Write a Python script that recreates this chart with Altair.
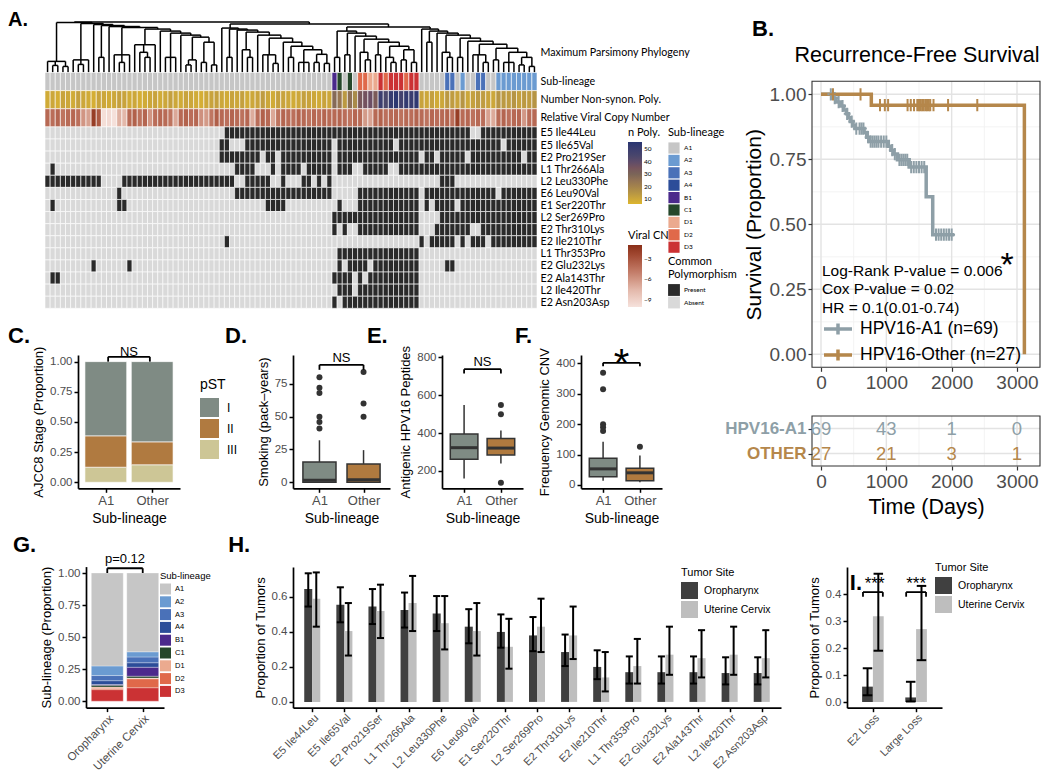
import json
import altair as alt
import pandas as pd

W, H = 1034, 764
M = 8
FONT = "Liberation Sans"
HFONT = "Lato"
TXT = "#4D4D4D"


def P(v):
    return v - M


def sc(dom, rng):
    return alt.Scale(domain=list(dom), range=[P(rng[0]), P(rng[1])], nice=False, zero=False)


def axis_kw(**kw):
    base = dict(grid=False, domainColor="black", domainWidth=1.7, tickColor="black",
                tickWidth=1.5, tickSize=4, labelColor=TXT, labelFont=FONT, labelFontSize=11.5,
                titleFont=FONT, titleFontSize=13, titleFontWeight="normal", titleColor="black",
                labelPadding=2, titlePadding=4, labelOverlap=False, labelFlush=False)
    base.update(kw)
    return alt.Axis(**base)


def yleft(at_x, **kw):
    return axis_kw(orient="left", offset=-P(at_x), **kw)


def xbottom(at_y, **kw):
    return axis_kw(orient="bottom", offset=P(at_y) - H, **kw)


def seg_chart(rows, xs, ys, **mk):
    df = pd.DataFrame(rows, columns=["x", "x2", "y", "y2"])
    return alt.Chart(df).mark_rule(**mk).encode(
        x=alt.X("x:Q", scale=xs, axis=None), x2="x2:Q",
        y=alt.Y("y:Q", scale=ys, axis=None), y2="y2:Q")


def text_chart(rows, xs, ys, **mk):
    df = pd.DataFrame(rows, columns=["x", "y", "t"])
    return alt.Chart(df).mark_text(**mk).encode(
        x=alt.X("x:Q", scale=xs, axis=None),
        y=alt.Y("y:Q", scale=ys, axis=None), text="t:N")


def bracket(x1, x2, ytop, yleg):
    return [(x1, x1, yleg, ytop), (x1, x2, ytop, ytop), (x2, x2, yleg, ytop)]


def letter(label, x, y, xs, ys, size=22):
    return text_chart([(x, y, label)], xs, ys, font=FONT, fontSize=size, fontWeight="bold",
                      align="left", baseline="alphabetic", color="black")


layers = []

# ======================= Panel A : phylogeny heatmap =======================
N_COLS = 96
SUB_LEVELS = ["A1", "A2", "A3", "A4", "B1", "C1", "D1", "D2", "D3"]
SUB_COLORS = ["#C6C6C6", "#6B9BD1", "#4A71B8", "#2C4D99", "#4B2A8C", "#25472B",
              "#EBAA8F", "#E0694A", "#CB3234"]
SUB_RUNS = [("A1", 56), ("B1", 1), ("C1", 1), ("A1", 1), ("C1", 1), ("A1", 1),
            ("D2", 2), ("D1", 2), ("D3", 1), ("D2", 1), ("D3", 3), ("D2", 1), ("D3", 2),
            ("A1", 5), ("A3", 2), ("A1", 1), ("A2", 1), ("A1", 2), ("A3", 2), ("A1", 2), ("A2", 8)]
N_POLY = [9, 10, 8, 11, 10, 9, 12, 10, 9, 8, 11, 10, 9, 10, 12, 11, 9, 10, 8, 9, 10, 11, 9, 10,
          12, 10, 9, 11, 10, 9, 8, 10, 11, 12, 10, 9, 11, 10, 12, 9, 10, 11, 13, 10, 9, 12, 11, 10,
          9, 10, 12, 11, 10, 9, 11, 10,
          28, 24, 14, 26, 18,
          34, 36, 38, 33, 50, 44, 52, 55, 48, 53, 51, 54,
          11, 10, 12, 9, 10, 14, 13, 11, 15, 10, 12, 14, 13, 11, 10, 15, 14, 13, 15, 12, 14, 13, 15]
VIRAL_CN = [-4.0, -4.2, -3.8, -4.5, -4.1, -3.9, -4.3, -6.0,
            -6.5, -1.8, -3.2, -9.8, -9.6, -9.9, -7.2, -7.5,
            -4.0, -3.6, -4.4, -3.8, -6.0, -4.2, -3.9, -4.1,
            -4.5, -6.8, -4.0, -3.7, -4.2, -3.9, -5.8, -6.2,
            -4.6, -3.5, -4.0, -4.3, -3.8, -4.1, -4.4, -3.9,
            -7.0, -4.2, -3.6, -4.0, -6.8, -4.5, -3.8, -4.1,
            -4.3, -3.7, -4.0, -4.4, -3.9, -4.2, -3.8, -4.1,
            -4.0, -3.8, -4.2, -4.5, -3.9, -4.1, -6.2, -6.6,
            -4.0, -3.7, -4.3, -4.1, -3.9, -4.4, -4.0, -4.2,
            -3.8, -4.1, -4.5, -3.9, -4.2, -4.0, -3.7, -4.3,
            -1.8, -4.1, -3.9, -4.4, -4.0, -4.2, -6.5, -6.9,
            -4.1, -3.8, -4.3, -4.0, -3.9, -6.1, -4.2, -4.0]
SNP_NAMES = ["E5 Ile44Leu", "E5 Ile65Val", "E2 Pro219Ser", "L1 Thr266Ala", "L2 Leu330Phe",
             "E6 Leu90Val", "E1 Ser220Thr", "L2 Ser269Pro", "E2 Thr310Lys", "E2 Ile210Thr",
             "L1 Thr353Pro", "E2 Glu232Lys", "E2 Ala143Thr", "L2 Ile420Thr", "E2 Asn203Asp"]
SNP_RUNS = [
    [(35, 82), (85, 95)],
    [(34, 35), (39, 55), (57, 67), (69, 88), (90, 95)],
    [(34, 41), (43, 44), (46, 55), (57, 72), (74, 75), (77, 81), (83, 92), (94, 95)],
    [(1, 1), (37, 40), (44, 44), (46, 49), (51, 55), (57, 59), (62, 66), (69, 95)],
    [(0, 10), (15, 36), (39, 43), (46, 46), (50, 51), (53, 53), (55, 55), (77, 79)],
    [(14, 14), (37, 55), (61, 72), (74, 87), (89, 95)],
    [(1, 1), (14, 15), (43, 46), (57, 57), (61, 72), (74, 74), (76, 79), (81, 95)],
    [(56, 72), (77, 95)],
    [(56, 56), (58, 58), (61, 72), (76, 82), (85, 95)],
    [(35, 35), (73, 73), (75, 79), (81, 81), (83, 85), (87, 95)],
    [(57, 72)],
    [(9, 9), (16, 16), (57, 57), (59, 62), (64, 72), (78, 79)],
    [(1, 2), (56, 56), (57, 59), (61, 61), (63, 72)],
    [(57, 59), (61, 72)],
    [(56, 56), (58, 72)],
]

# phylogeny: ladders of sub-clades, "(height child child ...)", x = leaf
LEFT_H = [0.99, 0.97, 0.95, 0.93, 0.91, 0.89, 0.86, 0.82, 0.78, 0.74, 0.70, 0.60]
LEFT_SUBS = ["(0.22 x (0.14 x x) (0.12 x x))", "(0.25 x (0.16 x x) x)", "x", "(0.3 x x)", "x",
             "(0.35 x (0.2 x x) x)", "(0.55 x (0.4 x (0.3 x x)) x)", "x", "(0.3 x x x)", "x",
             "(0.25 (0.15 x x) x)", "(0.2 x x)", "(0.15 x x)"]
RA_H = [0.88, 0.86, 0.84, 0.80, 0.74, 0.68, 0.60, 0.52, 0.45, 0.36]
RA_SUBS = ["x", "(0.3 x x)", "x", "(0.45 x (0.3 x x))", "x", "(0.35 x x (0.18 x x))", "x",
           "(0.3 x x)", "(0.2 x x x)", "(0.2 x x)", "(0.18 x x)"]
RB1_H = [0.82, 0.78, 0.72, 0.66, 0.60, 0.52, 0.45]
RB1_SUBS = ["(0.3 x x)", "(0.35 x x)", "x", "(0.4 x (0.25 x x))", "(0.35 x x)",
            "(0.3 x (0.2 x x))", "(0.25 x x)", "(0.2 x x)"]
RB2_H = [0.86, 0.82, 0.78, 0.74, 0.68, 0.62, 0.56, 0.48, 0.40, 0.30]
RB2_SUBS = ["x", "(0.6 x x)", "x", "(0.4 x (0.3 x x))", "(0.3 x x)", "x",
            "(0.35 x x (0.2 x x))", "(0.25 x x)", "(0.2 x x x)", "(0.15 x x)", "(0.12 x x)"]
ROOT_H, RIGHT_H, RB_H = 1.0, 0.96, 0.90


def ladder(heights, subs):
    s = "(%s %s %s)" % (heights[-1], subs[-2], subs[-1])
    for h, sub in zip(reversed(heights[:-1]), reversed(subs[:-2])):
        s = "(%s %s %s)" % (h, sub, s)
    return s


tree_str = "(%s %s (%s %s (%s %s %s)))" % (
    ROOT_H, ladder(LEFT_H, LEFT_SUBS), RIGHT_H, ladder(RA_H, RA_SUBS),
    RB_H, ladder(RB1_H, RB1_SUBS), ladder(RB2_H, RB2_SUBS))
tokens = tree_str.replace("(", " ( ").replace(")", " ) ").split()
state = {"pos": 0, "leaf": 0}
dendro_rows = []


def build():
    t = tokens[state["pos"]]
    state["pos"] += 1
    if t == "x":
        i = state["leaf"]
        state["leaf"] += 1
        return (i + 0.5, 0.0)
    h = float(tokens[state["pos"]])
    state["pos"] += 1
    pts = []
    while tokens[state["pos"]] != ")":
        pts.append(build())
    state["pos"] += 1
    xs_ = [p[0] for p in pts]
    for cx, ch in pts:
        dendro_rows.append((cx, cx, h, ch))
    dendro_rows.append((min(xs_), max(xs_), h, h))
    return ((min(xs_) + max(xs_)) / 2, h)


build()

XA = sc([0, N_COLS], [45, 537])
YDEN = sc([0, 1], [72.5, 22])
YHM = sc([0, 19.5], [72.5, 308.3])
ROWLAB_SIZE = 10.7

layers.append(seg_chart(dendro_rows, XA, YDEN, color="black", strokeWidth=1.5).encode(
    y=alt.Y("y:Q", scale=YDEN, axis=alt.Axis(
        orient="right", offset=P(537) - W, values=[0.4], labelExpr="'Maximum Parsimony Phylogeny'",
        ticks=False, domain=False, grid=False, labelFont=HFONT, labelFontSize=ROWLAB_SIZE,
        labelColor="black", labelPadding=3, title=None, labelOverlap=False))))
layers.append(letter("A.", -7.22, 0.92, XA, YDEN, size=20))

sub_list = []
for lab, n in SUB_RUNS:
    sub_list += [lab] * n
cols = list(range(N_COLS))
df_sub = pd.DataFrame({"c0": cols, "c1": [c + 1 for c in cols], "r0": 0.0, "r1": 1.5, "v": sub_list})
df_np = pd.DataFrame({"c0": cols, "c1": [c + 1 for c in cols], "r0": 1.5, "r1": 3.0, "v": N_POLY})
df_cn = pd.DataFrame({"c0": cols, "c1": [c + 1 for c in cols], "r0": 3.0, "r1": 4.5, "v": VIRAL_CN})
snp_rows = []
for k, (name, runs) in enumerate(zip(SNP_NAMES, SNP_RUNS)):
    present = set()
    for a, b in runs:
        present.update(range(a, b + 1))
    for c in cols:
        snp_rows.append({"c0": c, "c1": c + 1, "r0": 4.5 + k, "r1": 5.5 + k,
                         "v": "Present" if c in present else "Absent"})
df_snp = pd.DataFrame(snp_rows)


def heat(df, color):
    return alt.Chart(df).mark_rect(stroke="white", strokeWidth=0.6).encode(
        x=alt.X("c0:Q", scale=XA, axis=None), x2="c1:Q",
        y=alt.Y("r0:Q", scale=YHM, axis=None), y2="r1:Q", color=color)


small_leg = dict(orient="none", titleFont=HFONT, titleFontSize=11, titleFontWeight="normal",
                 titleColor="black", labelFont=HFONT, labelFontSize=6.5, labelColor="black",
                 titlePadding=4)

layers.append(heat(df_sub, alt.Color("v:N", scale=alt.Scale(domain=SUB_LEVELS, range=SUB_COLORS),
                                     legend=alt.Legend(legendX=P(668), legendY=P(127), title="Sub-lineage",
                                                       symbolType="square", symbolSize=125,
                                                       symbolStrokeWidth=0, rowPadding=0.4,
                                                       **small_leg))))
layers.append(heat(df_np, alt.Color("v:Q", scale=alt.Scale(domain=[6, 18, 30, 42, 56],
                                                           range=["#DDB62E", "#A98B49", "#7B6558", "#4F4B6B", "#283672"]),
                                    legend=alt.Legend(legendX=P(628), legendY=P(127), title="n Poly.",
                                                      gradientLength=62, gradientThickness=14,
                                                      gradientStrokeWidth=0, values=[10, 20, 30, 40, 50],
                                                      direction="vertical", **small_leg))))
layers.append(heat(df_cn, alt.Color("v:Q", scale=alt.Scale(domain=[-10, -7.5, -5, -2.5, -1],
                                                           range=["#F6E2DC", "#E3B8AA", "#C47E6B", "#A24A33", "#8A2F18"]),
                                    legend=alt.Legend(legendX=P(628), legendY=P(230), title="Viral CN",
                                                      gradientLength=62, gradientThickness=14,
                                                      gradientStrokeWidth=0, values=[-3, -6, -9],
                                                      direction="vertical", **small_leg))))
ROW_LABELS = ["Sub-lineage", "", "Number Non-synon. Poly.", "Relative Viral Copy Number", ""] + SNP_NAMES
row_vals = [0.75, 2.25, 3.75] + [5 + k for k in range(15)]
layers.append(alt.Chart(df_snp).mark_rect(stroke="white", strokeWidth=0.6).encode(
    x=alt.X("c0:Q", scale=XA, axis=None), x2="c1:Q",
    y=alt.Y("r0:Q", scale=YHM, axis=alt.Axis(
        orient="right", offset=P(537) - W, values=row_vals,
        labelExpr=json.dumps(ROW_LABELS) + "[floor(datum.value)]", ticks=False, domain=False,
        grid=False, labelFont=HFONT, labelFontSize=ROWLAB_SIZE, labelColor="black", labelPadding=3,
        title=None, labelOverlap=False, labelBaseline="middle")),
    y2="r1:Q",
    color=alt.Color("v:N", scale=alt.Scale(domain=["Present", "Absent"], range=["#2A2A2A", "#D9D9D9"]),
                    legend=alt.Legend(legendX=P(668), legendY=P(256), title=["Common", "Polymorphism"],
                                      symbolType="square", symbolSize=140, symbolStrokeWidth=0,
                                      rowPadding=0.5, **small_leg))))

# ======================= Panel B : Kaplan-Meier =======================
C_A1 = "#8E9FA7"
C_OT = "#B5874B"
KM_XDOM = [-137.8, 3352]
KM_YDOM = [-0.05, 1.05]
XK = sc(KM_XDOM, [812, 1040])
YK = sc(KM_YDOM, [367.3, 81.3])
KM_GROUPS = ["HPV16-A1 (n=69)", "HPV16-Other (n=27)"]
A1_TIME = [0, 180, 230, 300, 350, 390, 420, 450, 490, 520, 660, 700, 740, 1030, 1070, 1110,
           1170, 1350, 1610, 1710, 2040]
A1_SURV = [1.0, 0.985, 0.97, 0.955, 0.94, 0.925, 0.91, 0.895, 0.88, 0.868, 0.853, 0.835, 0.818,
           0.80, 0.785, 0.77, 0.748, 0.72, 0.606, 0.46, 0.46]
OT_TIME = [0, 770, 3113]
OT_SURV = [1.0, 0.958, 0.0]
A1_CENSOR = [150, 210, 270, 330, 400, 470, 540, 590, 620, 650, 720, 760, 790, 820, 850, 880, 920,
             960, 1000, 1090, 1130, 1200, 1230, 1260, 1290, 1320, 1380, 1420, 1460, 1500, 1540,
             1580, 1760, 1800, 1840, 1880, 1920, 1960, 2000]
OT_CENSOR = [183, 605, 903, 977, 1027, 1325, 1374, 1424, 1474, 1500, 1523, 1548, 1573, 1600,
             1623, 1650, 1672, 1722, 1945, 2392]
KM_GRID_MAJOR_X = [0, 1000, 2000, 3000]
KM_GRID_MINOR_X = [500, 1500, 2500]
KM_GRID_MAJOR_Y = [0, 0.25, 0.5, 0.75, 1.0]
KM_GRID_MINOR_Y = [0.125, 0.375, 0.625, 0.875]


def surv_at(times, survs, t):
    s = survs[0]
    for ti, si in zip(times, survs):
        if ti <= t:
            s = si
    return s


grid_major = [(x, x, KM_YDOM[0], KM_YDOM[1]) for x in KM_GRID_MAJOR_X] + \
             [(KM_XDOM[0], KM_XDOM[1], y, y) for y in KM_GRID_MAJOR_Y]
grid_minor = [(x, x, KM_YDOM[0], KM_YDOM[1]) for x in KM_GRID_MINOR_X] + \
             [(KM_XDOM[0], KM_XDOM[1], y, y) for y in KM_GRID_MINOR_Y]
layers.append(seg_chart(grid_minor, XK, YK, color="#F0F0F0", strokeWidth=0.8))
layers.append(seg_chart(grid_major, XK, YK, color="#E3E3E3", strokeWidth=1.4))

km_border = pd.DataFrame({"x": [KM_XDOM[0]], "x2": [KM_XDOM[1]], "y": [KM_YDOM[0]], "y2": [KM_YDOM[1]]})
layers.append(alt.Chart(km_border).mark_rect(fillOpacity=0, stroke="#333333", strokeWidth=1.1).encode(
    x=alt.X("x:Q", scale=XK, axis=alt.Axis(
        orient="bottom", offset=P(367.3) - H, values=KM_GRID_MAJOR_X, format="d", grid=False,
        domain=False, tickColor="#333333", tickSize=4, tickWidth=1.2, labelColor=TXT,
        labelFont=FONT, labelFontSize=19, labelPadding=2, title=None, labelOverlap=False,
        labelFlush=False)),
    x2="x2:Q",
    y=alt.Y("y:Q", scale=YK, axis=alt.Axis(
        orient="left", offset=-P(812), values=KM_GRID_MAJOR_Y, format=".2f", grid=False,
        domain=False, tickColor="#333333", tickSize=4, tickWidth=1.2, labelColor=TXT,
        labelFont=FONT, labelFontSize=19, labelPadding=2, title="Survival (Proportion)",
        titleFont=FONT, titleFontSize=21, titleFontWeight="normal", titleColor="black",
        titlePadding=5, labelOverlap=False)),
    y2="y2:Q"))

km_lines = pd.DataFrame(
    [{"g": KM_GROUPS[0], "t": t, "s": s, "o": i} for i, (t, s) in enumerate(zip(A1_TIME, A1_SURV))] +
    [{"g": KM_GROUPS[1], "t": t, "s": s, "o": i} for i, (t, s) in enumerate(zip(OT_TIME, OT_SURV))])
km_color = alt.Scale(domain=KM_GROUPS, range=[C_A1, C_OT])
layers.append(alt.Chart(km_lines).mark_line(interpolate="step-after", strokeWidth=3.5).encode(
    x=alt.X("t:Q", scale=XK, axis=None), y=alt.Y("s:Q", scale=YK, axis=None), order="o:Q",
    color=alt.Color("g:N", scale=km_color, legend=alt.Legend(
        orient="none", legendX=P(826), legendY=P(317), title=None,
        symbolType="M-1.4,0H1.4M0,-0.55V0.55", symbolSize=400, symbolStrokeWidth=3.5,
        labelFont=FONT, labelFontSize=17.5, labelColor="black", rowPadding=0, labelOffset=10,
        labelLimit=400))))
cens = pd.DataFrame(
    [{"g": KM_GROUPS[0], "t": t, "s": surv_at(A1_TIME, A1_SURV, t)} for t in A1_CENSOR] +
    [{"g": KM_GROUPS[1], "t": t, "s": surv_at(OT_TIME, OT_SURV, t)} for t in OT_CENSOR])
layers.append(alt.Chart(cens).mark_point(shape="M0,-1V1M-0.55,0H0.55", filled=False, size=150,
                                         strokeWidth=2, opacity=1).encode(
    x=alt.X("t:Q", scale=XK, axis=None), y=alt.Y("s:Q", scale=YK, axis=None),
    color=alt.Color("g:N", scale=km_color, legend=None)))
KM_NOTES = [(15, 0.32, "Log-Rank P-value = 0.006"), (15, 0.251, "Cox P-value = 0.02"),
            (15, 0.18, "HR = 0.1(0.01-0.74)")]
layers.append(text_chart(KM_NOTES, XK, YK, font=FONT, fontSize=15.5, align="left",
                         baseline="middle", color="black"))
layers.append(text_chart([(2847, 0.30, "*")], XK, YK, font=FONT, fontSize=34, align="center",
                         baseline="alphabetic", color="black"))
layers.append(letter("B.", -1056, 1.224, XK, YK))
layers.append(text_chart([(1469, 1.125, "Recurrence-Free Survival")], XK, YK, font=FONT, fontSize=21.5,
                         align="center", baseline="alphabetic", color="black"))

# risk table
RISK_TIMES = [0, 1000, 2000, 3000]
RISK_A1 = [69, 43, 1, 0]
RISK_OT = [27, 21, 3, 1]
YR = sc([0.5, 2.5], [416, 466])
risk_major = [(x, x, 0.5, 2.5) for x in KM_GRID_MAJOR_X] + [(KM_XDOM[0], KM_XDOM[1], y, y) for y in [1, 2]]
risk_minor = [(x, x, 0.5, 2.5) for x in KM_GRID_MINOR_X]
layers.append(seg_chart(risk_minor, XK, YR, color="#F0F0F0", strokeWidth=0.8))
layers.append(seg_chart(risk_major, XK, YR, color="#E3E3E3", strokeWidth=1.4))
risk_border = pd.DataFrame({"x": [KM_XDOM[0]], "x2": [KM_XDOM[1]], "y": [0.5], "y2": [2.5]})
layers.append(alt.Chart(risk_border).mark_rect(fillOpacity=0, stroke="#333333", strokeWidth=1.1).encode(
    x=alt.X("x:Q", scale=XK, axis=alt.Axis(
        orient="bottom", offset=P(466) - H, values=KM_GRID_MAJOR_X, format="d", grid=False,
        domain=False, tickColor="#333333", tickSize=4, tickWidth=1.2, labelColor=TXT,
        labelFont=FONT, labelFontSize=19, labelPadding=2, title="Time (Days)", titleFont=FONT,
        titleFontSize=21.5, titleFontWeight="normal", titleColor="black", titlePadding=5,
        labelOverlap=False, labelFlush=False)),
    x2="x2:Q",
    y=alt.Y("y:Q", scale=YR, axis=alt.Axis(
        orient="left", offset=-P(812), values=[1, 2],
        labelExpr="datum.value == 1 ? 'HPV16-A1' : 'OTHER'", grid=False, domain=False,
        tickColor="#333333", tickSize=4, tickWidth=1.2,
        labelColor={"condition": {"test": "datum.value == 2", "value": C_OT}, "value": C_A1},
        labelFont=FONT, labelFontSize=17, labelFontWeight="bold", labelPadding=2, title=None,
        labelOverlap=False)),
    y2="y2:Q"))
risk_df = pd.DataFrame([{"t": t, "r": 1, "n": str(n), "g": "A1"} for t, n in zip(RISK_TIMES, RISK_A1)] +
                       [{"t": t, "r": 2, "n": str(n), "g": "OTHER"} for t, n in zip(RISK_TIMES, RISK_OT)])
layers.append(alt.Chart(risk_df).mark_text(font=FONT, fontSize=18.5, baseline="middle").encode(
    x=alt.X("t:Q", scale=XK, axis=None), y=alt.Y("r:Q", scale=YR, axis=None), text="n:N",
    color=alt.Color("g:N", scale=alt.Scale(domain=["A1", "OTHER"], range=[C_A1, C_OT]), legend=None)))

# ======================= Panel C : stage =======================
GROUPS2 = ["A1", "Other"]
GROUP_COLORS = ["#7F8B84", "#B07A3F"]
lab2 = "datum.value == 1 ? 'A1' : 'Other'"
STAGE_LEVELS = ["I", "II", "III"]
STAGE_COLORS = ["#7F8B84", "#B07A40", "#CDC696"]
STAGE_PROPS = {"I": [0.615, 0.665], "II": [0.26, 0.19], "III": [0.125, 0.145]}
XC = sc([0.4, 2.6], [78, 180])
YC = sc([-0.05, 1.055], [488.3, 355])
c_rows = []
for gi, g in enumerate(GROUPS2):
    base = 0.0
    for st in ["III", "II", "I"]:
        v = STAGE_PROPS[st][gi]
        c_rows.append({"x": gi + 1 - 0.45, "x2": gi + 1 + 0.45, "y": base, "y2": base + v, "st": st})
        base += v
layers.append(alt.Chart(pd.DataFrame(c_rows)).mark_rect(stroke="white", strokeWidth=0.6).encode(
    x=alt.X("x:Q", scale=XC, axis=xbottom(488.3, values=[1, 2], labelExpr=lab2, title="Sub-lineage",
                                          labelFontSize=13, titleFontSize=14)),
    x2="x2:Q",
    y=alt.Y("y:Q", scale=YC, axis=yleft(78, values=[0, 0.25, 0.5, 0.75, 1], format=".2f",
                                        title="AJCC8 Stage (Proportion)")),
    y2="y2:Q",
    color=alt.Color("st:N", scale=alt.Scale(domain=STAGE_LEVELS, range=STAGE_COLORS), legend=alt.Legend(
        orient="none", legendX=P(200), legendY=P(378), title="pST", symbolType="square",
        symbolSize=361, symbolStrokeWidth=0, labelFont=FONT, labelFontSize=12, labelColor="black",
        titleFont=FONT, titleFontSize=14, titleFontWeight="normal", titleColor="black",
        rowPadding=2, titlePadding=6, labelOffset=8))))
layers.append(seg_chart(bracket(1.05, 1.95, 1.04, 1.0), XC, YC, color="black", strokeWidth=1.8))
layers.append(text_chart([(1.5, 1.08, "NS")], XC, YC, font=FONT, fontSize=13, baseline="middle",
                         color="black"))
layers.append(letter("C.", -1.11, 1.155, XC, YC))


# ======================= Panels D, E, F : box plots =======================
def box_layers(stats, xs, ys, axis_x, axis_vals, ytitle):
    out = []
    whisk, med, boxes, pts = [], [], [], []
    for gi, g in enumerate(GROUPS2):
        s = stats[g]
        c = gi + 1
        whisk += [(c, c, s["lo"], s["q1"]), (c, c, s["q3"], s["hi"])]
        med.append((c - 0.375, c + 0.375, s["med"], s["med"]))
        boxes.append({"x": c - 0.375, "x2": c + 0.375, "y": s["q1"], "y2": s["q3"], "g": g})
        pts += [{"x": c, "y": v} for v in s["out"]]
    out.append(seg_chart(whisk, xs, ys, color="#333333", strokeWidth=1.5))
    out.append(alt.Chart(pd.DataFrame(boxes)).mark_rect(stroke="#333333", strokeWidth=1.5).encode(
        x=alt.X("x:Q", scale=xs, axis=xbottom(488.3, values=[1, 2], labelExpr=lab2, title="Sub-lineage",
                                              labelFontSize=13, titleFontSize=14)),
        x2="x2:Q",
        y=alt.Y("y:Q", scale=ys, axis=yleft(axis_x, values=axis_vals, title=ytitle)),
        y2="y2:Q",
        color=alt.Color("g:N", scale=alt.Scale(domain=GROUPS2, range=GROUP_COLORS), legend=None)))
    out.append(seg_chart(med, xs, ys, color="#333333", strokeWidth=3))
    out.append(alt.Chart(pd.DataFrame(pts)).mark_circle(size=36, color="#333333", opacity=1).encode(
        x=alt.X("x:Q", scale=xs, axis=None), y=alt.Y("y:Q", scale=ys, axis=None)))
    return out


D_STATS = {"A1": dict(lo=0, q1=0, med=1.5, q3=15.5, hi=32, out=[41, 46, 50, 68, 72, 80]),
           "Other": dict(lo=0, q1=0, med=2, q3=14, hi=24.5, out=[50, 60, 84])}
E_STATS = {"A1": dict(lo=161, q1=262, med=323, q3=395, hi=548, out=[]),
           "Other": dict(lo=240, q1=285, med=321, q3=372, hi=414, out=[138, 499, 548])}
F_STATS = {"A1": dict(lo=14, q1=27, med=53, q3=88, hi=142, out=[178, 190, 200, 315, 369]),
           "Other": dict(lo=9, q1=14, med=40, q3=55, hi=97, out=[126])}

XD = sc([0.4, 2.6], [293, 390])
YD = sc([-4.6, 97], [488.3, 355])
layers += box_layers(D_STATS, XD, YD, 293, [0, 25, 50, 75], "Smoking (pack\u2013years)")
layers.append(seg_chart(bracket(1.0, 2.0, 89.5, 85.7), XD, YD, color="black", strokeWidth=1.8))
layers.append(text_chart([(1.5, 95, "NS")], XD, YD, font=FONT, fontSize=13, baseline="middle",
                         color="black"))
layers.append(letter("D.", -1.14, 106.1, XD, YD))

XE = sc([0.4, 2.6], [442, 523])
YE = sc([108.7, 812], [488.3, 355])
layers += box_layers(E_STATS, XE, YE, 442, [200, 400, 600, 800], "Antigenic HPV16 Peptides")
layers.append(seg_chart(bracket(1.0, 2.0, 737, 715), XE, YE, color="black", strokeWidth=1.8))
layers.append(text_chart([(1.5, 775, "NS")], XE, YE, font=FONT, fontSize=13, baseline="middle",
                         color="black"))
layers.append(letter("E.", -1.64, 875.3, XE, YE))

XF = sc([0.4, 2.6], [581, 662])
YF = sc([-10.9, 427.6], [488.3, 355])
layers += box_layers(F_STATS, XF, YF, 581, [0, 100, 200, 300, 400], "Frequency Genomic CNV")
layers.append(seg_chart(bracket(1.0, 2.0, 402, 391), XF, YF, color="black", strokeWidth=1.8))
layers.append(text_chart([(1.5, 356, "*")], XF, YF, font=FONT, fontSize=40, baseline="alphabetic",
                         color="black"))
layers.append(letter("F.", -1.39, 467.1, XF, YF))

# ======================= Panel G : sub-lineage by site =======================
SITES = ["Oropharynx", "Uterine Cervix"]
SITE_PROPS = {
    "Oropharynx": {"A1": 0.725, "A2": 0.075, "A3": 0.04, "A4": 0.03, "B1": 0.005, "C1": 0.015,
                   "D1": 0.01, "D2": 0.01, "D3": 0.09},
    "Uterine Cervix": {"A1": 0.615, "A2": 0.04, "A3": 0.045, "A4": 0.035, "B1": 0.07, "C1": 0.015,
                       "D1": 0.005, "D2": 0.07, "D3": 0.105},
}
XG = sc([0.4, 2.6], [86, 164])
YG = sc([-0.05, 1.05], [707.6, 566.6])
g_rows = []
for si, site in enumerate(SITES):
    base = 0.0
    for lev in reversed(SUB_LEVELS):
        v = SITE_PROPS[site][lev]
        g_rows.append({"x": si + 1 - 0.45, "x2": si + 1 + 0.45, "y": base, "y2": base + v, "s": lev})
        base += v
layers.append(alt.Chart(pd.DataFrame(g_rows)).mark_rect(stroke="white", strokeWidth=0.3).encode(
    x=alt.X("x:Q", scale=XG, axis=xbottom(707.6, values=[1, 2],
                                          labelExpr="datum.value == 1 ? 'Oropharynx' : 'Uterine Cervix'",
                                          labelAngle=-45, labelAlign="right", labelBaseline="top",
                                          labelFontSize=11.5, labelPadding=1, title=None)),
    x2="x2:Q",
    y=alt.Y("y:Q", scale=YG, axis=yleft(86, values=[0, 0.25, 0.5, 0.75, 1], format=".2f",
                                        title="Sub-lineage (Proportion)")),
    y2="y2:Q",
    color=alt.Color("s:N", scale=alt.Scale(domain=SUB_LEVELS, range=SUB_COLORS), legend=alt.Legend(
        orient="none", legendX=P(160), legendY=P(571), title="Sub-lineage", symbolType="square",
        symbolSize=121, symbolStrokeWidth=0, labelFont=FONT, labelFontSize=7.5, labelColor="black",
        titleFont=FONT, titleFontSize=9.5, titleFontWeight="normal", titleColor="black",
        rowPadding=1.8, titlePadding=3, labelOffset=4))))
layers.append(seg_chart(bracket(1.0, 2.0, 1.037, 1.0), XG, YG, color="black", strokeWidth=1.8))
layers.append(text_chart([(1.5, 1.11, "p=0.12")], XG, YG, font=FONT, fontSize=13, baseline="middle",
                         color="black"))
layers.append(letter("G.", -1.66, 1.164, XG, YG))

# ======================= Panel H : polymorphisms by site =======================
SITE_COLORS = ["#404040", "#BEBEBE"]
H_MUT = SNP_NAMES
H_ORO = [0.645, 0.555, 0.545, 0.525, 0.505, 0.43, 0.40, 0.38, 0.285, 0.20, 0.17, 0.17, 0.17, 0.165, 0.165]
H_ORO_LO = [0.545, 0.455, 0.445, 0.425, 0.405, 0.335, 0.31, 0.29, 0.205, 0.13, 0.105, 0.105, 0.105, 0.10, 0.10]
H_ORO_HI = [0.735, 0.655, 0.645, 0.625, 0.605, 0.53, 0.50, 0.485, 0.385, 0.295, 0.26, 0.26, 0.26, 0.255, 0.255]
H_CX = [0.59, 0.405, 0.52, 0.565, 0.45, 0.405, 0.315, 0.43, 0.38, 0.14, 0.205, 0.27, 0.25, 0.27, 0.25]
H_CX_LO = [0.43, 0.265, 0.365, 0.405, 0.30, 0.265, 0.19, 0.285, 0.245, 0.06, 0.105, 0.155, 0.14, 0.155, 0.14]
H_CX_HI = [0.74, 0.565, 0.67, 0.72, 0.605, 0.565, 0.475, 0.59, 0.545, 0.285, 0.36, 0.43, 0.41, 0.43, 0.41]
I_CAT = ["E2 Loss", "Large Loss"]
I_ORO = [0.057, 0.017]
I_ORO_LO = [0.025, 0.002]
I_ORO_HI = [0.125, 0.075]
I_CX = [0.318, 0.27]
I_CX_LO = [0.19, 0.155]
I_CX_HI = [0.475, 0.43]


def dodge_layers(oro, oro_lo, oro_hi, cx, cx_lo, cx_hi, xs, ys, axis_y_x, axis_x_y, xlabels,
                 yvals, leg_xy):
    bars, errs = [], []
    for i in range(len(oro)):
        for site, off, v, lo, hi in [(SITES[0], -0.125, oro[i], oro_lo[i], oro_hi[i]),
                                     (SITES[1], 0.125, cx[i], cx_lo[i], cx_hi[i])]:
            c = i + 1 + off
            bars.append({"x": c - 0.125, "x2": c + 0.125, "y": 0.0, "y2": v, "s": site})
            errs += [(c, c, lo, hi), (c - 0.11, c + 0.11, lo, lo), (c - 0.11, c + 0.11, hi, hi)]
    bar = alt.Chart(pd.DataFrame(bars)).mark_rect().encode(
        x=alt.X("x:Q", scale=xs, axis=xbottom(axis_x_y, values=list(range(1, len(oro) + 1)),
                                              labelExpr=json.dumps(xlabels) + "[datum.value - 1]",
                                              labelAngle=-45, labelAlign="right", labelBaseline="top",
                                              labelFontSize=11, labelPadding=0, title=None)),
        x2="x2:Q",
        y=alt.Y("y:Q", scale=ys, axis=yleft(axis_y_x, values=yvals, format=".1f",
                                            title="Proportion of Tumors")),
        y2="y2:Q",
        color=alt.Color("s:N", scale=alt.Scale(domain=SITES, range=SITE_COLORS), legend=alt.Legend(
            orient="none", legendX=P(leg_xy[0]), legendY=P(leg_xy[1]), title="Tumor Site",
            symbolType="square", symbolSize=289, symbolStrokeWidth=0, labelFont=FONT,
            labelFontSize=10.5, labelColor="black", titleFont=FONT, titleFontSize=11,
            titleFontWeight="normal", titleColor="black", rowPadding=2, titlePadding=4,
            labelOffset=6)))
    err = seg_chart(errs, xs, ys, color="black", strokeWidth=2)
    return [bar, err]


XH = sc([0.4, 15.6], [293, 781])
YH = sc([-0.033, 0.771], [707.7, 567])
layers += dodge_layers(H_ORO, H_ORO_LO, H_ORO_HI, H_CX, H_CX_LO, H_CX_HI, XH, YH, 293, 707.7,
                       H_MUT, [0, 0.2, 0.4, 0.6], (681, 567))
layers.append(letter("H.", -1.62, 0.857, XH, YH))

XI = sc([0.4, 2.6], [847, 942])
YI = sc([-0.021, 0.5], [707.7, 567])
layers += dodge_layers(I_ORO, I_ORO_LO, I_ORO_HI, I_CX, I_CX_LO, I_CX_HI, XI, YI, 847, 707.7,
                       I_CAT, [0, 0.1, 0.2, 0.3, 0.4], (935, 562))
layers.append(seg_chart(bracket(0.77, 1.23, 0.407, 0.39) + bracket(1.77, 2.23, 0.407, 0.39),
                        XI, YI, color="black", strokeWidth=1.8))
layers.append(text_chart([(1.04, 0.42, "***"), (2.0, 0.42, "***")], XI, YI, font=FONT, fontSize=17,
                         baseline="alphabetic", color="black"))
layers.append(letter("I.", 0.465, 0.415, XI, YI))

chart = alt.layer(*layers).resolve_scale(
    x="independent", y="independent", color="independent"
).resolve_axis(x="independent", y="independent").resolve_legend(color="independent").properties(
    width=W, height=H, autosize=alt.AutoSizeParams(type="none"), padding=0
).configure_view(stroke=None)

chart.save("out.html", embed_options={"renderer": "svg", "actions": False})
